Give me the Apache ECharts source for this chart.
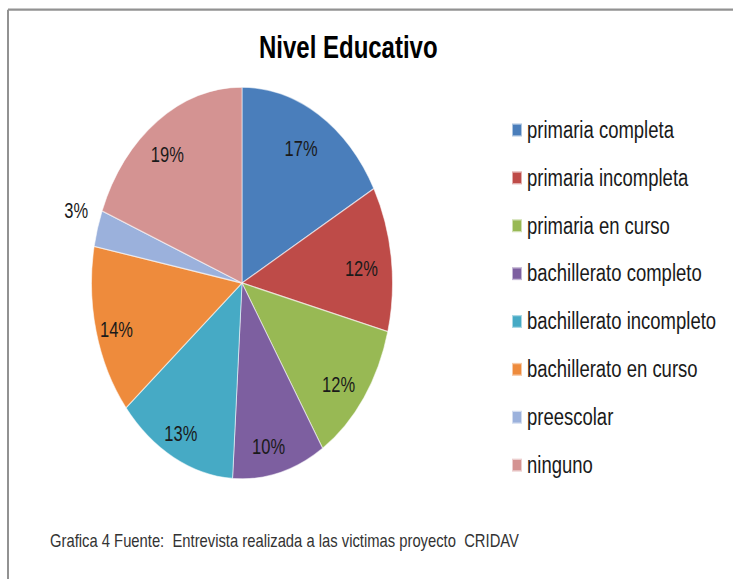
<!DOCTYPE html>
<html>
<head>
<meta charset="utf-8">
<script src="https://cdn.jsdelivr.net/npm/echarts@6/dist/echarts.min.js"></script>
<style>
  html, body { margin: 0; padding: 0; background: #ffffff; overflow: hidden; }
  #wrap { width: 733px; height: 579px; overflow: hidden; position: relative; }
  #chart { width: 733px; height: 445px; transform: scaleY(1.3011); transform-origin: 0 0; }
</style>
</head>
<body>
<div id="wrap"><div id="chart"></div></div>
<script>
const titleText = 'Nivel Educativo';
const sourceText = 'Grafica 4 Fuente:  Entrevista realizada a las victimas proyecto  CRIDAV';
const categories = [
  'primaria completa',
  'primaria incompleta',
  'primaria en curso',
  'bachillerato completo',
  'bachillerato incompleto',
  'bachillerato en curso',
  'preescolar',
  'ninguno'
];
const values = [17, 12, 12, 10, 13, 14, 3, 19];
const colors = ['#4A7EBB', '#BE4B48', '#98B954', '#7D5FA0', '#46AAC5', '#EE8B3C', '#9BB1DC', '#D49392'];
const outsideLabels = ['preescolar'];

const FONT = "'Liberation Sans', Arial, sans-serif";
const R = 150.5;

const chart = echarts.init(document.getElementById('chart'), null, { renderer: 'svg' });

const pieData = categories.map((name, i) => ({
  name: name,
  value: values[i],
  itemStyle: { color: colors[i] }
}));

const labelData = categories.map((name, i) => {
  const item = { name: name, value: values[i] };
  if (outsideLabels.indexOf(name) >= 0) {
    item.label = { position: 'outside' };
    item.labelLine = { show: false, length: 4, length2: 0 };
  }
  return item;
});

chart.setOption({
  backgroundColor: '#ffffff',
  animation: false,
  title: [
    {
      text: titleText,
      left: 259,
      top: 24.4,
      padding: 0,
      textStyle: { fontFamily: FONT, fontSize: 24, fontWeight: 'bold', color: '#000000' }
    },
    {
      text: sourceText,
      left: 50,
      top: 408,
      padding: 0,
      textStyle: { fontFamily: FONT, fontSize: 14.8, fontWeight: 'normal', color: '#333333' }
    }
  ],
  graphic: [
    { type: 'line', shape: { x1: 8, y1: 7.4, x2: 733, y2: 7.4 }, style: { stroke: '#929292', lineWidth: 1.6 }, silent: true },
    { type: 'line', shape: { x1: 8, y1: 7.4, x2: 8, y2: 445 }, style: { stroke: '#929292', lineWidth: 2 }, silent: true }
  ],
  legend: {
    orient: 'vertical',
    left: 511,
    top: 89.9,
    padding: 0,
    itemWidth: 10,
    itemHeight: 10,
    itemGap: 16.8,
    icon: 'rect',
    selectedMode: false,
    data: categories,
    textStyle: { fontFamily: FONT, fontSize: 18.5, lineHeight: 20, color: '#1a1a1a' }
  },
  series: [
    {
      type: 'pie',
      name: 'Nivel Educativo',
      center: [242, 217.5],
      radius: [0, R],
      startAngle: 90,
      clockwise: true,
      silent: true,
      itemStyle: { borderColor: 'rgba(255,255,255,0.55)', borderWidth: 1 },
      label: { show: false },
      labelLine: { show: false },
      emphasis: { disabled: true },
      data: pieData
    },
    {
      type: 'pie',
      name: 'labels',
      center: [237.5, 222],
      radius: [R * 0.62, R],
      startAngle: 90,
      clockwise: true,
      silent: true,
      itemStyle: { color: 'rgba(0,0,0,0)', borderWidth: 0 },
      label: {
        show: true,
        position: 'inside',
        formatter: '{c}%',
        fontFamily: FONT,
        fontSize: 16.5,
        color: '#1a1a1a'
      },
      labelLine: { show: false },
      labelLayout: function (params) {
        if (outsideLabels.indexOf(categories[params.dataIndex]) >= 0) {
          return { dy: -17, dx: 4 };
        }
        return {};
      },
      emphasis: { disabled: true },
      data: labelData
    }
  ]
});
</script>
</body>
</html>
